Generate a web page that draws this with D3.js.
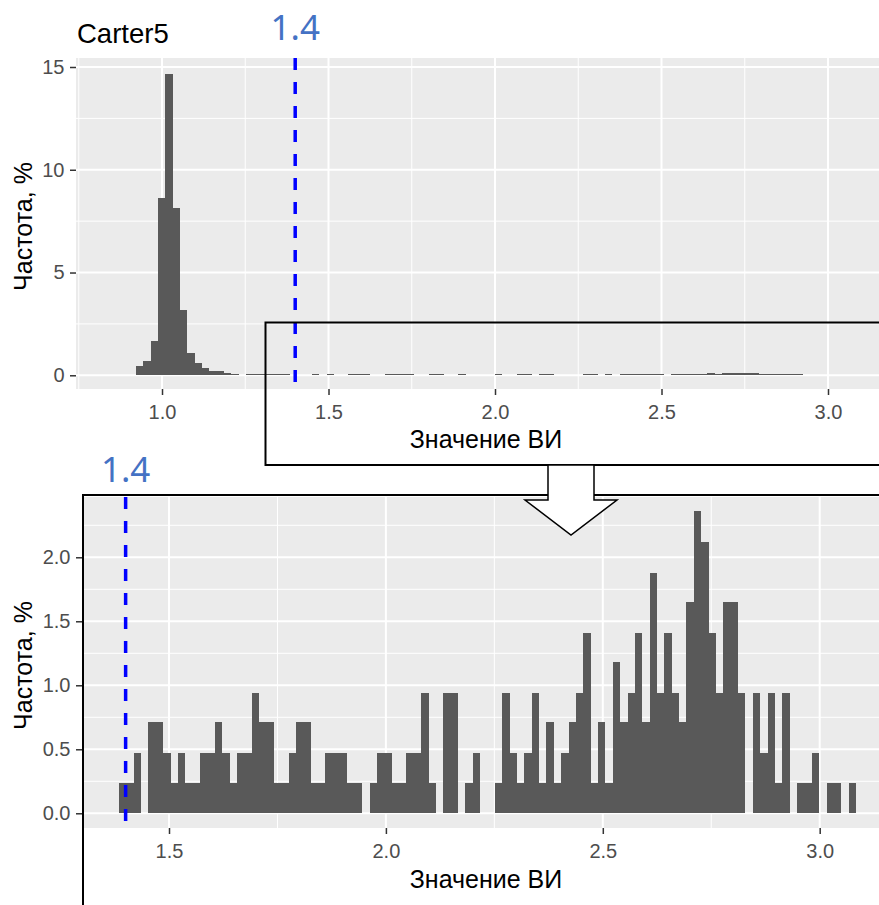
<!DOCTYPE html>
<html>
<head>
<meta charset="utf-8">
<script src="https://cdn.jsdelivr.net/npm/d3@7"></script>
<style>
  body { margin: 0; background: #fff; }
  svg { display: block; }
</style>
</head>
<body>
<div id="chart"></div>
<script>
// -------------------
// data

// upper histogram: whole sample, bins of ~0.022 starting at 0.922
const topStart = 0.922
const topBinWidth = 0.022
const topValues = [
  0.44, 0.69, 1.67, 8.63, 14.67, 8.12, 3.17, 1.10, 0.62, 0.36,
  0.20, 0.20, 0.10, 0.08, 0, 0.06, 0.06, 0.06, 0.06, 0.06,
  0.06, 0, 0, 0, 0.06, 0, 0.06, 0, 0, 0.06,
  0.06, 0.06, 0, 0, 0.06, 0.06, 0.06, 0.06, 0, 0,
  0.06, 0.06, 0, 0, 0.06, 0, 0, 0, 0, 0.06,
  0, 0, 0.06, 0.06, 0, 0.06, 0.06, 0, 0, 0,
  0, 0.06, 0.06, 0, 0.06, 0, 0.06, 0.06, 0.06, 0.06,
  0.06, 0.06, 0, 0.06, 0.06, 0.06, 0.06, 0.06, 0.13, 0.06,
  0.13, 0.13, 0.13, 0.13, 0.13, 0.06, 0.06, 0.06, 0.06, 0.06,
  0.06
]

// lower histogram: zoom on values above 1.4, bins of ~0.017 starting at 1.385
const bottomStart = 1.3847
const bottomBinWidth = 0.01699
const bottomValues = [
  0.24, 0.24, 0.47, 0, 0.71, 0.71, 0.47, 0.24, 0.47, 0.24,
  0.24, 0.47, 0.47, 0.71, 0.47, 0.24, 0.47, 0.47, 0.94, 0.71,
  0.71, 0.24, 0.24, 0.47, 0.71, 0.71, 0.24, 0.24, 0.47, 0.47,
  0.47, 0.24, 0.24, 0, 0.24, 0.47, 0.47, 0.24, 0.24, 0.47,
  0.47, 0.94, 0.24, 0, 0.94, 0.94, 0, 0.24, 0.47, 0,
  0, 0.24, 0.94, 0.47, 0.24, 0.47, 0.94, 0.24, 0.71, 0.24,
  0.47, 0.71, 0.94, 1.41, 0.24, 0.71, 0.24, 1.18, 0.71, 0.94,
  1.41, 0.71, 1.88, 0.94, 1.41, 0.94, 0.71, 1.65, 2.36, 2.12,
  1.41, 0.94, 1.65, 1.65, 0.94, 0, 0.94, 0.47, 0.94, 0.24,
  0.94, 0, 0.24, 0.24, 0.47, 0, 0.24, 0.24, 0, 0.24
]

const topXTicks = [1.0, 1.5, 2.0, 2.5, 3.0]
const topYTicks = [0, 5, 10, 15]
const bottomXTicks = [1.5, 2.0, 2.5, 3.0]
const bottomYTicks = [0, 0.5, 1.0, 1.5, 2.0]
const threshold = 1.4

const toBins = (start, w, values) => values.map((v, i) => ({ x0: start + i * w, x1: start + (i + 1) * w, value: v }))

// minor breaks halfway between majors (ggplot style)
const minorBreaks = (ticks, domain) => {
  const step = ticks[1] - ticks[0]
  const out = []
  for (let v = ticks[0] - step / 2; v <= ticks[ticks.length - 1] + step / 2 + 1e-9; v += step) {
    if (v > domain[0] && v < domain[1]) out.push(v)
  }
  return out
}

const W = 879, H = 905
const font = "'Liberation Sans', Arial, sans-serif"

const svg = d3.select("#chart").append("svg")
  .attr("width", W)
  .attr("height", H)
  .style("font-family", font)

svg.append("rect").attr("width", W).attr("height", H).attr("fill", "#fff")

const defs = svg.append("defs")

function drawHist(o) {
  const x = d3.scaleLinear().domain(o.xDomain).range([o.left, o.right])
  const y = d3.scaleLinear().domain(o.yDomain).range([o.bottom, o.top])

  defs.append("clipPath").attr("id", o.id)
    .append("rect")
    .attr("x", o.clipLeft).attr("y", o.top)
    .attr("width", o.right - o.clipLeft).attr("height", o.bottom - o.top)

  const g = svg.append("g")
  const panel = g.append("g").attr("clip-path", `url(#${o.id})`)

  // panel background
  panel.append("rect")
    .attr("x", o.left).attr("y", o.top)
    .attr("width", o.right - o.left).attr("height", o.bottom - o.top)
    .attr("fill", "#EBEBEB")

  // grid
  const xMinor = minorBreaks(o.xTicks, o.xDomain)
  const yMinor = minorBreaks(o.yTicks, o.yDomain)
  panel.append("g").selectAll("line").data(xMinor).join("line")
    .attr("x1", d => x(d)).attr("x2", d => x(d)).attr("y1", o.top).attr("y2", o.bottom)
    .attr("stroke", "#fff").attr("stroke-width", 1)
  panel.append("g").selectAll("line").data(yMinor).join("line")
    .attr("y1", d => y(d)).attr("y2", d => y(d)).attr("x1", o.left).attr("x2", o.right)
    .attr("stroke", "#fff").attr("stroke-width", 1)
  panel.append("g").selectAll("line").data(o.xTicks).join("line")
    .attr("x1", d => x(d)).attr("x2", d => x(d)).attr("y1", o.top).attr("y2", o.bottom)
    .attr("stroke", "#fff").attr("stroke-width", 2)
  panel.append("g").selectAll("line").data(o.yTicks).join("line")
    .attr("y1", d => y(d)).attr("y2", d => y(d)).attr("x1", o.left).attr("x2", o.right)
    .attr("stroke", "#fff").attr("stroke-width", 2)

  // bars
  panel.append("g")
    .selectAll("rect")
    .data(o.bins.filter(d => d.value > 0))
    .join("rect")
    .attr("x", d => x(d.x0))
    .attr("width", d => x(d.x1) - x(d.x0))
    .attr("y", d => y(d.value))
    .attr("height", d => y(0) - y(d.value))
    .attr("fill", "#595959")
    .attr("shape-rendering", "crispEdges")

  // threshold line
  panel.append("line")
    .attr("x1", x(threshold)).attr("x2", x(threshold))
    .attr("y1", o.top).attr("y2", o.bottom)
    .attr("stroke", "#0000FF")
    .attr("stroke-width", 3.5)
    .attr("stroke-dasharray", "12,12")

  // axes
  const yAxis = g.append("g")
    .attr("transform", `translate(${o.axisX},0)`)
    .call(d3.axisLeft(y).tickValues(o.yTicks).tickFormat(d3.format(o.yFormat)).tickSize(6).tickPadding(5.5))
  const xAxis = g.append("g")
    .attr("transform", `translate(0,${o.bottom})`)
    .call(d3.axisBottom(x).tickValues(o.xTicks).tickFormat(d3.format(".1f")).tickSize(6).tickPadding(10))
  ;[xAxis, yAxis].forEach(a => {
    a.select(".domain").remove()
    a.selectAll(".tick line").attr("stroke", "#333333").attr("stroke-width", 1.5)
    a.selectAll(".tick text")
      .attr("fill", "#4D4D4D")
      .style("font-family", font)
      .style("font-size", "20px")
  })

  // axis titles
  g.append("text")
    .attr("x", (o.left + o.right) / 2)
    .attr("y", o.xTitleY)
    .attr("text-anchor", "middle")
    .style("font-size", "25px")
    .text("Значение ВИ")
  g.append("text")
    .attr("transform", `translate(32,${(o.top + o.bottom) / 2 + 3}) rotate(-90)`)
    .attr("text-anchor", "middle")
    .style("font-size", "25px")
    .text("Частота, %")

  // 1.4 label above the line
  g.append("text")
    .attr("x", x(threshold))
    .attr("y", o.labelY)
    .attr("text-anchor", "middle")
    .attr("fill", "#4472C4")
    .style("font-family", "'Noto Sans', 'Open Sans', sans-serif")
    .style("font-size", "35px")
    .text("1.4")

  if (o.title) {
    g.append("text")
      .attr("x", o.left + 1)
      .attr("y", 42.5)
      .style("font-size", "27.5px")
      .text(o.title)
  }
}

drawHist({
  id: "clip-top",
  left: 76, right: 896, top: 58, bottom: 389, clipLeft: 76, axisX: 76,
  xDomain: [0.7417, 3.2042], yDomain: [-0.667, 15.438],
  xTicks: topXTicks, yTicks: topYTicks, yFormat: "d",
  bins: toBins(topStart, topBinWidth, topValues),
  xTitleY: 448, labelY: 40, title: "Carter5"
})

drawHist({
  id: "clip-bottom",
  left: 76, right: 896, top: 497, bottom: 828, clipLeft: 84, axisX: 82,
  xDomain: [1.2856, 3.1759], yDomain: [-0.115, 2.471],
  xTicks: bottomXTicks, yTicks: bottomYTicks, yFormat: ".1f",
  bins: toBins(bottomStart, bottomBinWidth, bottomValues),
  xTitleY: 888, labelY: 482
})

// annotation: box on the tail, frame round the zoomed chart, arrow between them
svg.append("rect")
  .attr("x", 265.5).attr("y", 322.5).attr("width", 700).attr("height", 142.5)
  .attr("fill", "none").attr("stroke", "#000").attr("stroke-width", 2)
svg.append("rect")
  .attr("x", 83).attr("y", 495).attr("width", 900).attr("height", 500)
  .attr("fill", "none").attr("stroke", "#000").attr("stroke-width", 2)

const arrowPts = [[548, 465], [594, 465], [594, 500], [617, 500], [571, 535], [525, 500], [548, 500]]
svg.append("path")
  .attr("d", d3.line()(arrowPts) + "Z")
  .attr("fill", "#fff")
  .attr("stroke", "#000")
  .attr("stroke-width", 1.5)
  .attr("stroke-linejoin", "miter")
</script>
</body>
</html>
